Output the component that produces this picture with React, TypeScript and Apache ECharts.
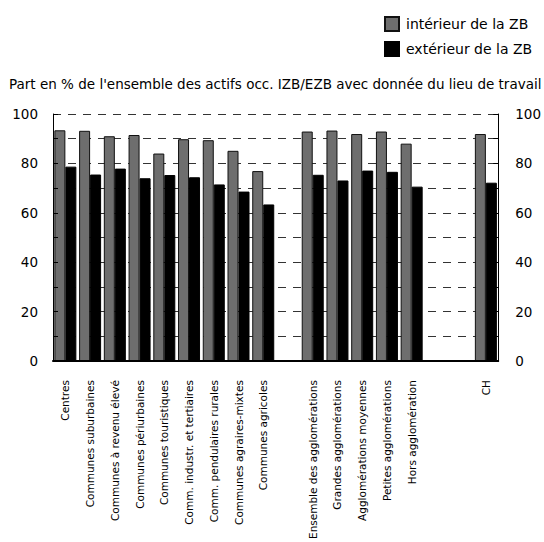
import React, { useEffect, useRef } from "react";
import * as echarts from "echarts";

const categories: string[] = [
  "Centres",
  "Communes suburbaines",
  "Communes à revenu élevé",
  "Communes périurbaines",
  "Communes touristiques",
  "Comm. industr. et tertiaires",
  "Comm. pendulaires rurales",
  "Communes agraires-mixtes",
  "Communes agricoles",
  "",
  "Ensemble des agglomérations",
  "Grandes agglomérations",
  "Agglomérations moyennes",
  "Petites agglomérations",
  "Hors agglomération",
  "",
  "",
  "CH",
];

const interieur: (number | null)[] = [
  93.4, 93.2, 91.0, 91.5, 84.0, 89.8, 89.4, 85.1, 76.9,
  null,
  92.9, 93.3, 91.9, 92.9, 88.0,
  null, null,
  91.9,
];

const exterieur: (number | null)[] = [
  78.7, 75.5, 77.9, 74.0, 75.3, 74.4, 71.5, 68.6, 63.4,
  null,
  75.4, 73.1, 77.1, 76.6, 70.6,
  null, null,
  72.2,
];

const seriesNames = ["intérieur de la ZB", "extérieur de la ZB"];
const titleText =
  "Part en % de l'ensemble des actifs occ. IZB/EZB avec donnée du lieu de travail";

const FONT = "DejaVu Sans";

export default function App() {
  const ref = useRef<HTMLDivElement>(null);
  useEffect(() => {
    if (!ref.current) return;
    const chart = echarts.init(ref.current, undefined, { renderer: "svg" });
    const axisCommon = {
      type: "value" as const,
      min: 0,
      max: 100,
      interval: 10,
    };
    const labelFmt = (v: number) => (v % 20 === 0 ? String(v) : "");
    chart.setOption({
      animation: false,
      backgroundColor: "#ffffff",
      title: {
        text: titleText,
        left: 9,
        top: 76,
        padding: 0,
        textStyle: {
          fontFamily: FONT,
          fontSize: 13.5,
          fontWeight: "normal",
          color: "#000",
          lineHeight: 16,
        },
      },
      legend: {
        orient: "vertical",
        left: 384,
        top: 16,
        padding: 0,
        icon: "rect",
        itemWidth: 14,
        itemHeight: 14,
        itemGap: 9,
        data: seriesNames,
        textStyle: {
          fontFamily: FONT,
          fontSize: 14,
          color: "#000",
          lineHeight: 14,
          padding: [0, 0, 0, 2],
        },
      },
      grid: { left: 53, top: 114, width: 448, height: 255 },
      xAxis: {
        type: "category",
        data: categories,
        axisLine: { show: true, lineStyle: { color: "#000", width: 2 } },
        axisTick: { show: false },
        axisLabel: {
          rotate: 90,
          interval: 0,
          margin: 19,
          fontFamily: FONT,
          fontSize: 10.5,
          color: "#000",
        },
        z: 10,
      },
      yAxis: [
        {
          ...axisCommon,
          position: "left",
          z: 10,
          axisLine: { show: true, lineStyle: { color: "#000", width: 1 } },
          axisTick: { show: true, inside: true, length: 5, lineStyle: { color: "#000" } },
          axisLabel: {
            formatter: labelFmt,
            margin: 15,
            fontFamily: FONT,
            fontSize: 13.5,
            color: "#000",
          },
          splitLine: { show: false },
        },
        {
          ...axisCommon,
          position: "right",
          z: 10,
          axisLine: { show: true, lineStyle: { color: "#000", width: 1 } },
          axisTick: { show: true, inside: true, length: 5, lineStyle: { color: "#000" } },
          axisLabel: {
            formatter: labelFmt,
            margin: 17,
            fontFamily: FONT,
            fontSize: 13.5,
            color: "#000",
          },
          splitLine: { show: false },
        },
        {
          ...axisCommon,
          position: "left",
          z: 0,
          axisLine: { show: false },
          axisTick: { show: false },
          axisLabel: { show: false },
          splitLine: {
            show: true,
            lineStyle: { color: "#333", width: 1, type: [8, 7] },
          },
        },
      ],
      series: [
        {
          name: seriesNames[0],
          type: "bar",
          yAxisIndex: 0,
          data: interieur,
          barWidth: 11,
          barGap: "0%",
          itemStyle: { color: "#6e6e6e", borderColor: "#111", borderWidth: 1 },
          z: 5,
        },
        {
          name: seriesNames[1],
          type: "bar",
          yAxisIndex: 0,
          data: exterieur,
          barWidth: 11,
          barGap: "0%",
          itemStyle: { color: "#000000", borderColor: "#000", borderWidth: 1 },
          z: 5,
        },
      ],
    });
    return () => chart.dispose();
  }, []);
  return (
    <div
      ref={ref}
      style={{ position: "fixed", left: 0, top: 0, width: 544, height: 542, background: "#fff" }}
    />
  );
}
